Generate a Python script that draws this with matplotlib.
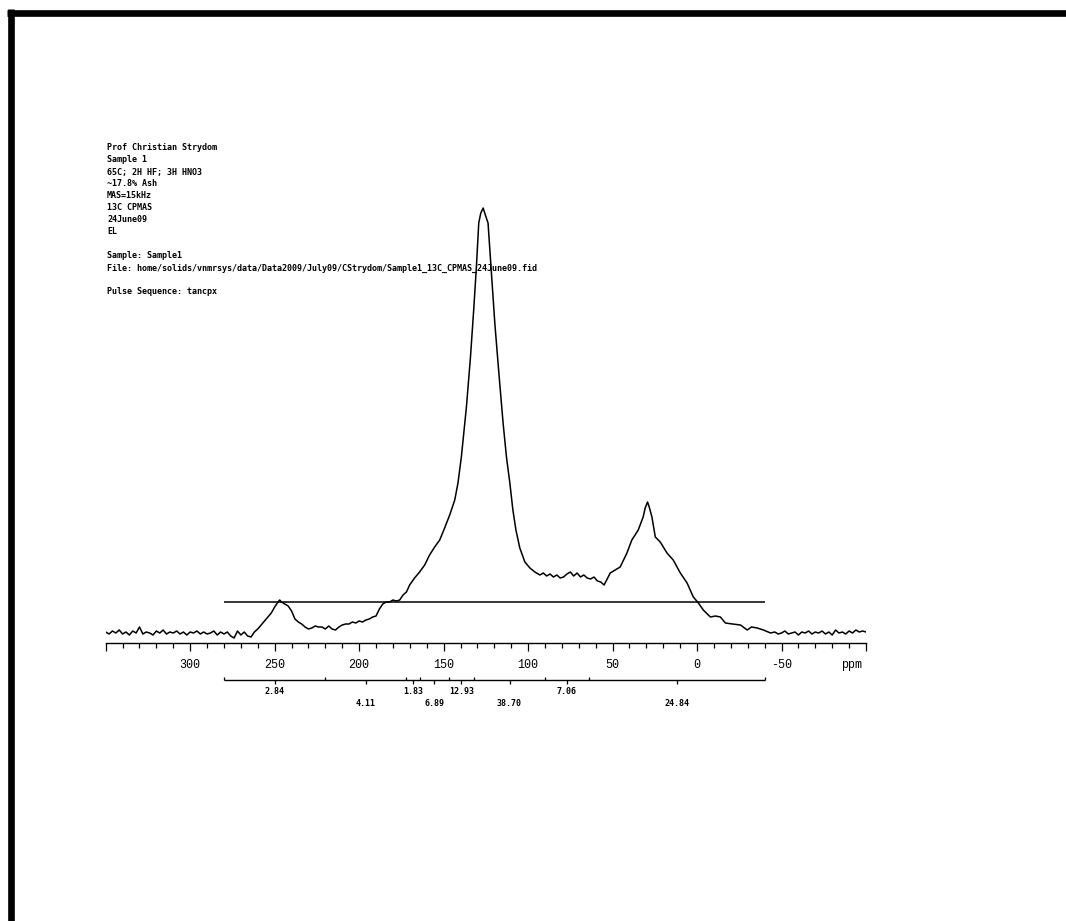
import matplotlib
matplotlib.use("Agg")
import matplotlib.pyplot as plt
from matplotlib.lines import Line2D
from matplotlib.ticker import MultipleLocator, FuncFormatter
import numpy as np

# Header printed by the spectrometer software
header_lines = [
    "Prof Christian Strydom",
    "Sample 1",
    "65C; 2H HF; 3H HNO3",
    "~17.8% Ash",
    "MAS=15kHz",
    "13C CPMAS",
    "24June09",
    "EL",
    "",
    "Sample: Sample1",
    "File: home/solids/vnmrsys/data/Data2009/July09/CStrydom/Sample1_13C_CPMAS_24June09.fid",
    "",
    "Pulse Sequence: tancpx",
]

# 13C CPMAS spectrum (chemical shift ppm, intensity)
baseline_left_ppm = [350, 348, 346, 344, 342, 340, 338, 336, 334, 332, 330, 328, 326, 324,
                     322, 320, 318, 316, 314, 312, 310, 308, 306, 304, 302, 300, 298, 296,
                     294, 292, 290, 288, 286, 284, 282, 280, 278, 276, 274, 272, 270, 268,
                     266, 264]
baseline_left_int = [1, -1, 2, 0, 3, -1, 1, -2, 2, 0, 6, -1, 1, 0,
                     -2, 2, 0, 3, -1, 1, 0, 2, -1, 1, -2, 1, 0, 2,
                     -1, 1, -1, 0, 2, -2, 1, -1, 1, -3, -5, 2, -2, 1,
                     -3, -4]

carbonyl_ppm = [262, 260, 258, 256, 254, 252, 250, 248, 247, 246, 244, 242, 240, 238,
                236, 234, 232, 230, 228, 226, 224, 222, 220, 218, 216, 214, 212, 210,
                208, 206, 204, 202, 200, 198, 196, 194, 192, 190, 188, 186, 184, 182,
                180, 178, 176, 174, 172]
carbonyl_int = [1, 4, 8, 12, 16, 20, 26, 31, 33, 31, 29, 27, 22, 14,
                11, 9, 6, 4, 5, 7, 6, 6, 4, 7, 4, 3, 6, 8,
                9, 9, 11, 10, 12, 11, 13, 14, 16, 17, 24, 29, 31, 31,
                33, 32, 33, 38, 41]

aromatic_ppm = [170.1, 167.2, 164.2, 161.2, 158.3, 155.3, 152.3, 149.4, 146.4, 143.4,
                141.5, 139.5, 136.5, 134.1, 132.2, 130.6, 129.2, 128.0, 126.6, 125.3,
                123.7, 121.7, 119.7, 117.3, 114.8, 112.8, 110.8, 109.0, 107.2, 104.9,
                101.9, 98.9, 96.0, 93.0]
aromatic_int = [48, 55, 61, 68, 78, 86, 93, 105, 118, 133,
                150, 176, 226, 276, 323, 366, 410, 420, 425, 418,
                410, 360, 310, 260, 210, 176, 150, 123, 103, 85,
                71, 65, 61, 58]

plateau_ppm = [91, 89, 87, 85, 83, 81, 79, 77, 75, 73, 71, 69, 67, 65, 63, 61, 59, 57, 55]
plateau_int = [60, 57, 59, 56, 58, 55, 56, 59, 61, 57, 60, 56, 58, 55, 54, 56, 52, 51, 48]

aliphatic_ppm = [51.4, 45.5, 41.5, 38.6, 34.8, 31.9, 30.7, 29.3, 28.3, 26.7, 24.7, 21.8,
                 17.8, 14.1, 9.9, 5.9, 2.2, -0.8, -3.7, -7.9, -10.9, -13.8, -16.8, -21.0,
                 -25.7, -29.7, -32.2, -35.6, -39.3, -43.5]
aliphatic_int = [60, 66, 80, 93, 103, 116, 125, 131, 126, 116, 96, 91,
                 80, 73, 60, 50, 36, 30, 23, 16, 17, 16, 10, 9,
                 8, 3, 6, 5, 3, 0]

baseline_right_ppm = [-46, -48, -50, -52, -54, -56, -58, -60, -62, -64, -66, -68, -70, -72,
                      -74, -76, -78, -80, -82, -84, -86, -88, -90, -92, -94, -96, -98, -100]
baseline_right_int = [1, -1, 0, 2, -1, 0, 1, -2, 1, 0, 2, -1, 1, 0,
                      2, -1, 1, -2, 3, 0, 1, -1, 2, 0, 3, 1, 2, 1]

# Integral regions (boundaries in ppm) and the printed integral values
integral_bounds = [280, 220, 172, 164, 147, 132, 90, 64, -40]
integral_values = [2.84, 4.11, 1.83, 6.89, 12.93, 38.70, 7.06, 24.84]

# Horizontal reference line drawn across the spectrum
ref_level = 31
ref_span = (280, -40)

shift = np.concatenate([baseline_left_ppm, carbonyl_ppm, aromatic_ppm,
                        plateau_ppm, aliphatic_ppm, baseline_right_ppm])
signal = np.concatenate([baseline_left_int, carbonyl_int, aromatic_int,
                         plateau_int, aliphatic_int, baseline_right_int])

W, H = 1066, 921
fig = plt.figure(figsize=(W / 100, H / 100), dpi=100)
fig.patch.set_facecolor("white")

# axes placed so that 350..-100 ppm spans the printed scale
ax = fig.add_axes([105.7 / W, 1 - 713 / H, (866 - 105.7) / W, 513 / H])
ax.set_xlim(350, -100)
ax.set_ylim(-80, 433)

ax.plot(shift, signal, color="black", lw=1.1)
ax.hlines(ref_level, ref_span[0], ref_span[1], color="black", lw=1.1)

# ppm scale
for s in ["left", "right", "top"]:
    ax.spines[s].set_visible(False)
ax.spines["bottom"].set_position(("data", -10))
ax.spines["bottom"].set_linewidth(1.0)
ax.yaxis.set_visible(False)
ax.xaxis.set_major_locator(MultipleLocator(50))
ax.xaxis.set_minor_locator(MultipleLocator(10))
ax.xaxis.set_major_formatter(FuncFormatter(
    lambda v, p: "" if v > 325 or v < -75 else "%d" % v))
ax.tick_params(axis="x", which="major", direction="out", length=5.5, width=0.9, pad=6,
               labelsize=8.5, labelfontfamily="Liberation Mono")
ax.tick_params(axis="x", which="minor", direction="out", length=3.6, width=0.9)
fig.text(852 / W, 1 - 665 / H, "ppm", family="Liberation Mono", fontsize=8.5,
         ha="center", va="center")

# integral line with region marks and values
int_y = -47
ax.hlines(int_y, integral_bounds[0], integral_bounds[-1], color="black", lw=1.0)
ax.vlines(integral_bounds, int_y, int_y + 3, color="black", lw=0.9)
for i, val in enumerate(integral_values):
    mid = 0.5 * (integral_bounds[i] + integral_bounds[i + 1])
    ax.vlines(mid, int_y - 4, int_y, color="black", lw=0.9)
    ty = -59 if i % 2 == 0 else -71
    ax.text(mid, ty, "%.2f" % val, ha="center", va="center", fontsize=6,
            family="DejaVu Sans Mono", weight="bold")

# header block
for i, line in enumerate(header_lines):
    fig.text(107 / W, 1 - (148 + 12 * i) / H, line, ha="left", va="center",
             fontsize=6, family="DejaVu Sans Mono", weight="bold")

# thick frame on the left and top edges
fig.add_artist(Line2D([10.7 / W, 10.7 / W], [0, 1 - 9.5 / H], color="black", lw=4.8,
                      solid_capstyle="butt"))
fig.add_artist(Line2D([7.3 / W, 1], [1 - 12.7 / H, 1 - 12.7 / H], color="black", lw=4.8,
                      solid_capstyle="butt"))

fig.savefig("out.png", dpi=100, facecolor="white")
